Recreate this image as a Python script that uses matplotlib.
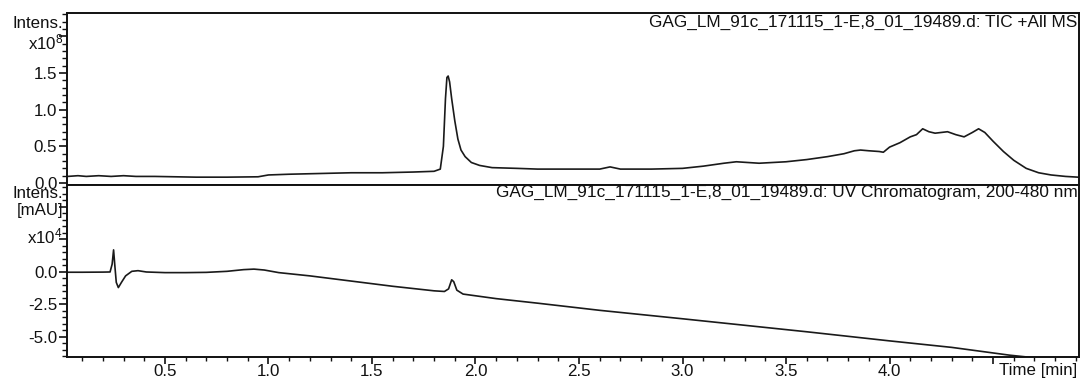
import matplotlib
matplotlib.use("Agg")
import matplotlib.pyplot as plt
from matplotlib.ticker import MultipleLocator, FixedLocator, FixedFormatter

plt.rcParams['font.family'] = ['Liberation Sans', 'DejaVu Sans']
plt.rcParams['mathtext.default'] = 'regular'

# ---------------- data ----------------
tic_time = [0.03, 0.08, 0.12, 0.18, 0.24, 0.30, 0.36, 0.45, 0.55, 0.65, 0.80, 0.95,
            1.00, 1.10, 1.25, 1.40, 1.55, 1.70, 1.80, 1.83, 1.845, 1.855, 1.862, 1.868,
            1.875, 1.885, 1.90, 1.915, 1.93, 1.95, 1.98, 2.02, 2.08, 2.20, 2.30, 2.45,
            2.60, 2.65, 2.70, 2.85, 3.00, 3.10, 3.20, 3.26, 3.37, 3.50, 3.60, 3.70,
            3.78, 3.83, 3.86, 3.90, 3.95, 3.97, 4.00, 4.05, 4.10, 4.13, 4.16, 4.19,
            4.22, 4.25, 4.28, 4.32, 4.36, 4.40, 4.43, 4.46, 4.50, 4.55, 4.60, 4.66,
            4.72, 4.78, 4.85, 4.91]
tic_intens = [0.09, 0.10, 0.09, 0.10, 0.09, 0.10, 0.09, 0.09, 0.085, 0.08, 0.08, 0.085,
              0.11, 0.12, 0.13, 0.14, 0.14, 0.15, 0.16, 0.19, 0.50, 1.15, 1.44, 1.46,
              1.38, 1.15, 0.85, 0.60, 0.45, 0.36, 0.28, 0.24, 0.21, 0.20, 0.19, 0.19,
              0.19, 0.22, 0.19, 0.19, 0.20, 0.23, 0.27, 0.29, 0.27, 0.29, 0.32, 0.36,
              0.40, 0.44, 0.45, 0.44, 0.43, 0.42, 0.49, 0.55, 0.63, 0.66, 0.74, 0.70,
              0.68, 0.69, 0.70, 0.66, 0.63, 0.69, 0.74, 0.69, 0.57, 0.43, 0.31, 0.20,
              0.14, 0.11, 0.09, 0.08]

uv_time = [0.03, 0.10, 0.20, 0.235, 0.245, 0.252, 0.258, 0.265, 0.275, 0.29, 0.31,
           0.34, 0.37, 0.41, 0.50, 0.60, 0.70, 0.80, 0.88, 0.93, 0.98, 1.05, 1.20,
           1.40, 1.60, 1.80, 1.85, 1.87, 1.885, 1.895, 1.91, 1.94, 2.10, 2.30, 2.60,
           3.00, 3.30, 3.60, 4.00, 4.30, 4.58, 4.70, 4.91]
uv_intens = [-0.02, -0.02, -0.01, 0.0, 0.6, 1.7, 0.5, -0.8, -1.2, -0.8, -0.3,
             0.05, 0.10, 0.0, -0.05, -0.05, -0.03, 0.05, 0.18, 0.22, 0.15, -0.05, -0.30,
             -0.70, -1.10, -1.45, -1.50, -1.30, -0.60, -0.75, -1.40, -1.70, -2.05, -2.40, -2.95,
             -3.60, -4.10, -4.60, -5.30, -5.80, -6.40, -6.60, -6.80]

x_ticks = [0.5, 1.0, 1.5, 2.0, 2.5, 3.0, 3.5, 4.0, 4.5]
x_labels = ['0.5', '1.0', '1.5', '2.0', '2.5', '3.0', '3.5', '4.0', '']
tic_ticks = [0.0, 0.5, 1.0, 1.5, 2.0]
tic_labels = ['0.0', '0.5', '1.0', '1.5', '']
uv_ticks = [-5.0, -2.5, 0.0, 2.5, 5.0]
uv_labels = ['-5.0', '-2.5', '0.0', '', '']

tic_title = 'GAG_LM_91c_171115_1-E,8_01_19489.d: TIC +All MS'
uv_title = 'GAG_LM_91c_171115_1-E,8_01_19489.d: UV Chromatogram, 200-480 nm'

# ---------------- figure ----------------
W, H = 1083, 379
fig = plt.figure(figsize=(W / 100, H / 100), dpi=100)
fig.patch.set_facecolor('white')

L, R = 67, 1079
T, M, B = 13, 185, 357
def rect(top, bottom):
    return [L / W, (H - bottom) / H, (R - L) / W, (bottom - top) / H]

ax1 = fig.add_axes(rect(T, M))
ax2 = fig.add_axes(rect(M, B))

fs = 12.2
fs_title = 12.45
txt_col = '#111111'
line_col = '#1a1a1a'
for ax in (ax1, ax2):
    ax.set_xlim(0.027, 4.915)
    for s in ax.spines.values():
        s.set_linewidth(1.4)
        s.set_color(txt_col)
    ax.tick_params(axis='both', which='major', direction='out', length=6, width=1.2,
                   labelsize=fs, colors=txt_col, pad=1)
    ax.tick_params(axis='both', which='minor', direction='out', length=3.5, width=1.0,
                   colors=txt_col)

# top panel
ax1.plot(tic_time, tic_intens, color=line_col, lw=1.2)
ax1.set_ylim(-0.027, 2.32)
ax1.yaxis.set_major_locator(FixedLocator(tic_ticks))
ax1.yaxis.set_major_formatter(FixedFormatter(tic_labels))
ax1.yaxis.set_minor_locator(MultipleLocator(0.1))
ax1.tick_params(axis='x', which='both', bottom=False, labelbottom=False)
ax1.text(1077 / W, 1 - 22 / H, tic_title, transform=fig.transFigure,
         ha='right', va='center', fontsize=fs_title, color=txt_col)
ax1.text(63 / W, 1 - 23 / H, 'Intens.', transform=fig.transFigure,
         ha='right', va='center', fontsize=fs, color=txt_col)
ax1.text(63 / W, 1 - 42 / H, '$x10^8$', transform=fig.transFigure,
         ha='right', va='center', fontsize=fs, color=txt_col)

# bottom panel
ax2.plot(uv_time, uv_intens, color=line_col, lw=1.2)
ax2.set_ylim(-6.54, 6.69)
ax2.yaxis.set_major_locator(FixedLocator(uv_ticks))
ax2.yaxis.set_major_formatter(FixedFormatter(uv_labels))
ax2.yaxis.set_minor_locator(MultipleLocator(0.5))
ax2.xaxis.set_major_locator(FixedLocator(x_ticks))
ax2.xaxis.set_major_formatter(FixedFormatter(x_labels))
ax2.xaxis.set_minor_locator(MultipleLocator(0.1))
ax2.tick_params(axis='x', which='major', length=5, pad=0)
ax2.tick_params(axis='x', which='minor', length=3)
ax2.text(1078 / W, 1 - 192 / H, uv_title, transform=fig.transFigure,
         ha='right', va='center', fontsize=fs_title, color=txt_col)
ax2.text(63 / W, 1 - 194 / H, 'Intens.', transform=fig.transFigure,
         ha='right', va='center', fontsize=fs, color=txt_col)
ax2.text(63 / W, 1 - 211 / H, '[mAU]', transform=fig.transFigure,
         ha='right', va='center', fontsize=fs, color=txt_col)
ax2.text(63 / W, 1 - 236 / H, '$x10^4$', transform=fig.transFigure,
         ha='right', va='center', fontsize=fs, color=txt_col)
ax2.text(1077 / W, 1 - 370 / H, 'Time [min]', transform=fig.transFigure,
         ha='right', va='center', fontsize=fs, color=txt_col)

fig.savefig('out.png', dpi=100, facecolor='white')
